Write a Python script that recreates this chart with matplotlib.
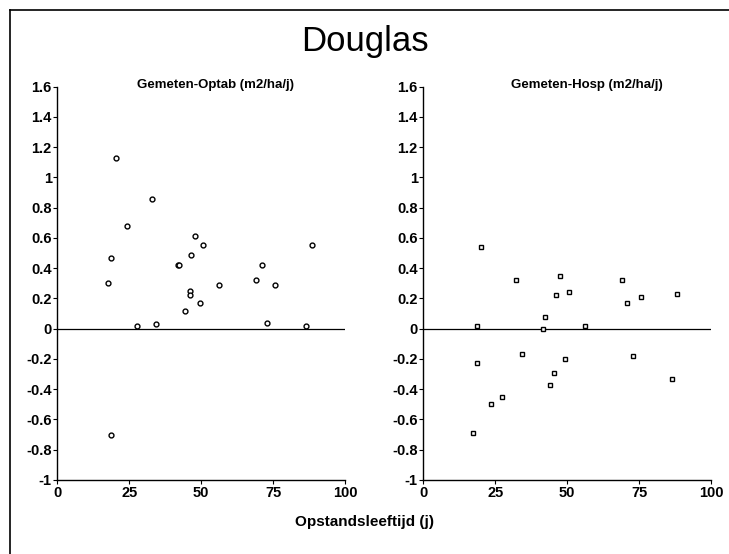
import matplotlib
matplotlib.use("Agg")
import matplotlib.pyplot as plt
from matplotlib.lines import Line2D

plt.rcParams['font.family'] = ['Liberation Sans', 'DejaVu Sans']

# leeftijd (j) en afwijking (m2/ha/j)
optab_x = [20.3, 32.8, 24.2, 18.5, 17.5, 27.7, 34.4, 41.8, 42.4, 46.4, 47.8, 50.8,
           46.1, 46.0, 44.5, 49.5, 56.3, 69.2, 71.0, 75.6, 72.9, 86.4, 88.4, 18.6]
optab_y = [1.13, 0.86, 0.68, 0.47, 0.30, 0.02, 0.03, 0.42, 0.42, 0.49, 0.61, 0.55,
           0.25, 0.22, 0.12, 0.17, 0.29, 0.32, 0.42, 0.29, 0.04, 0.02, 0.55, -0.70]

hosp_x = [20.1, 18.8, 32.3, 47.4, 46.0, 50.6, 42.2, 41.6, 56.2, 69.0, 70.9, 75.7,
          88.2, 18.6, 34.2, 49.1, 45.4, 44.1, 27.2, 23.6, 17.3, 72.9, 86.3]
hosp_y = [0.54, 0.02, 0.32, 0.35, 0.22, 0.24, 0.08, 0.00, 0.02, 0.32, 0.17, 0.21,
          0.23, -0.23, -0.17, -0.20, -0.29, -0.37, -0.45, -0.50, -0.69, -0.18, -0.33]

yticks = [1.6, 1.4, 1.2, 1, 0.8, 0.6, 0.4, 0.2, 0, -0.2, -0.4, -0.6, -0.8, -1]
ytick_labels = ['1.6', '1.4', '1.2', '1', '0.8', '0.6', '0.4', '0.2', '0',
                '-0.2', '-0.4', '-0.6', '-0.8', '-1']
xticks = [0, 25, 50, 75, 100]
xtick_labels = ['0', '25', '50', '75', '100']

fig = plt.figure(figsize=(7.29, 5.54), dpi=100)

# kader links en boven
fig.add_artist(Line2D([10/729, 1], [1 - 10/554, 1 - 10/554], color='black', lw=1.2))
fig.add_artist(Line2D([10/729, 10/729], [0, 1 - 10/554], color='black', lw=1.2))

fig.text(0.50, 0.925, 'Douglas', ha='center', va='center', fontsize=25)

panels = [
    (0.0786, optab_x, optab_y, 'o', 'Gemeten-Optab (m2/ha/j)', 3.5, 0.55),
    (0.5807, hosp_x, hosp_y, 's', 'Gemeten-Hosp (m2/ha/j)', 3.1, 0.57),
]

for left, xs, ys, mk, title, ms, tx in panels:
    ax = fig.add_axes([left, 0.1336, 0.3947, 0.7101])
    ax.axhline(0, color='black', lw=0.9, zorder=1)
    ax.plot(xs, ys, linestyle='none', marker=mk, markersize=ms,
            markerfacecolor='white', markeredgecolor='black', markeredgewidth=1.0, zorder=3)
    ax.set_xlim(0, 100)
    ax.set_ylim(-1, 1.6)
    ax.set_xticks(xticks)
    ax.set_xticklabels(xtick_labels, fontweight='bold')
    ax.set_yticks(yticks)
    ax.set_yticklabels(ytick_labels, fontweight='bold')
    ax.spines['top'].set_visible(False)
    ax.spines['right'].set_visible(False)
    ax.spines['left'].set_linewidth(1.0)
    ax.spines['bottom'].set_linewidth(1.0)
    ax.tick_params(axis='both', direction='out', length=3, width=0.8,
                   labelsize=10.5, pad=1)
    ax.text(tx, 0.99, title, transform=ax.transAxes, ha='center', va='bottom',
            fontsize=9.5, fontweight='bold')

fig.text(0.50, 0.057, 'Opstandsleeftijd (j)', ha='center', va='center',
         fontsize=11, fontweight='bold')

fig.savefig('out.png', dpi=100)
